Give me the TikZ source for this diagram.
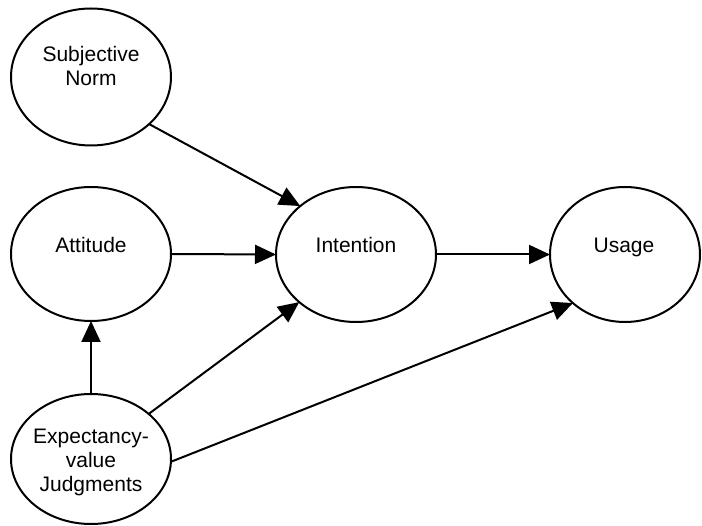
\documentclass[tikz,border=0pt]{standalone}
\usepackage{fontspec}
\setmainfont{Liberation Sans}
\usetikzlibrary{shapes.geometric,arrows.meta}

\tikzset{
  construct/.style={draw=black, line width=2pt, ellipse, inner sep=0pt, outer sep=0pt, fill=white},
  lbl/.style={font=\fontsize{21}{24}\selectfont, align=center, inner sep=0pt},
  link/.style={line width=2pt, -{Triangle[length=21pt,width=19pt]}},
}

\begin{document}
\begin{tikzpicture}[x=1pt,y=-1pt]
  \useasboundingbox (0,0) rectangle (702,526);

  % construct ellipses
  \node[construct, minimum width=160pt, minimum height=137pt] (sn)  at (91,77)    {};
  \node[construct, minimum width=160pt, minimum height=134pt] (att) at (91,254)   {};
  \node[construct, minimum width=160pt, minimum height=135pt] (int) at (356,254.5) {};
  \node[construct, minimum width=150pt, minimum height=135pt] (use) at (625,254.5) {};
  \node[construct, minimum width=160pt, minimum height=130pt] (exp) at (91,459)   {};

  % labels
  \node[lbl] (snlbl)  at (91,66)    {Subjective\\Norm};
  \node[lbl, anchor=base] (attlbl) at (91,253)  {Attitude};
  \node[lbl, anchor=base] (intlbl) at (356,253) {Intention};
  \node[lbl, anchor=base] (uselbl) at (624,253) {Usage};
  \node[lbl] (explbl) at (91,462.5) {Expectancy-\\value\\Judgments};

  % causal paths
  \draw[link] (sn.-39.5) -- (int.139.6);
  \draw[link] (att.east) -- (int.west);
  \draw[link] (int.east) -- (use.west);
  \draw[link] (exp.north) -- (att.south);
  \draw[link] (exp.38.9) -- (int.-140);
  \draw[link] (exp.-2) -- (use.-137);
\end{tikzpicture}
\end{document}
